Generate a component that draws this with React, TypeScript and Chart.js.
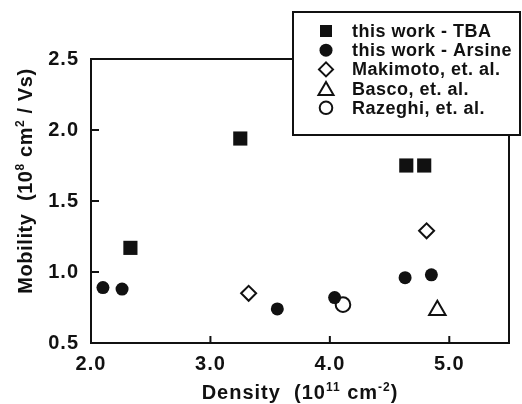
import React, { useEffect, useRef } from 'react';
import { Chart, registerables } from 'chart.js';
import { drawPoint } from 'chart.js/helpers';

Chart.register(...registerables);

// ---- data ----
const seriesLabels = [
  'this work - TBA',
  'this work - Arsine',
  'Makimoto, et. al.',
  'Basco, et. al.',
  'Razeghi, et. al.',
];
const tbaDensity = [2.33, 3.25, 4.64, 4.79];
const tbaMobility = [1.17, 1.94, 1.75, 1.75];
const arsineDensity = [2.1, 2.26, 3.56, 4.04, 4.63, 4.85];
const arsineMobility = [0.89, 0.88, 0.74, 0.82, 0.96, 0.98];
const makimotoDensity = [3.32, 4.81];
const makimotoMobility = [0.85, 1.29];
const bascoDensity = [4.9];
const bascoMobility = [0.73];
const razeghiDensity = [4.11];
const razeghiMobility = [0.77];

const xTickValues = [2.0, 3.0, 4.0, 5.0];
const yTickValues = [0.5, 1.0, 1.5, 2.0, 2.5];

const INK = '#111111';
const FONT = "'Liberation Sans', Arial, Helvetica, sans-serif";

type Part = { t: string; sup?: boolean };

const xTitleParts: Part[] = [
  { t: 'Density  (10' },
  { t: '11', sup: true },
  { t: ' cm' },
  { t: '-2', sup: true },
  { t: ')' },
];
const yTitleParts: Part[] = [
  { t: 'Mobility  (10' },
  { t: '8', sup: true },
  { t: ' cm' },
  { t: '2', sup: true },
  { t: ' / Vs)' },
];

function zip(xs: number[], ys: number[]) {
  return xs.map((x, i) => ({ x, y: ys[i] }));
}

function drawRich(ctx: CanvasRenderingContext2D, parts: Part[], cx: number, cy: number, size: number) {
  const supSize = Math.round(size * 0.62);
  let total = 0;
  const widths = parts.map((p) => {
    ctx.font = `bold ${p.sup ? supSize : size}px ${FONT}`;
    const w = ctx.measureText(p.t).width;
    total += w;
    return w;
  });
  let x = cx - total / 2;
  const base = cy + size * 0.36;
  ctx.textAlign = 'left';
  ctx.textBaseline = 'alphabetic';
  parts.forEach((p, i) => {
    ctx.font = `bold ${p.sup ? supSize : size}px ${FONT}`;
    ctx.fillText(p.t, x, p.sup ? base - size * 0.4 : base);
    x += widths[i];
  });
}

const spacingPlugin = {
  id: 'spacing',
  beforeDraw(chart: any) {
    (chart.ctx as any).letterSpacing = '1px';
  },
};

const framePlugin = {
  id: 'frame',
  afterDatasetsDraw(chart: any) {
    const { ctx, chartArea } = chart;
    const xs = chart.scales.x;
    const ys = chart.scales.y;
    ctx.save();
    ctx.strokeStyle = INK;
    ctx.lineWidth = 2;
    ctx.beginPath();
    ctx.moveTo(chartArea.left - 1, chartArea.top);
    ctx.lineTo(chartArea.right, chartArea.top);
    ctx.lineTo(chartArea.right, chartArea.bottom + 1);
    ctx.stroke();
    // inward ticks
    ctx.beginPath();
    xTickValues.forEach((v) => {
      const px = xs.getPixelForValue(v);
      ctx.moveTo(px, chartArea.bottom);
      ctx.lineTo(px, chartArea.bottom - 7);
    });
    yTickValues.forEach((v) => {
      const py = ys.getPixelForValue(v);
      ctx.moveTo(chartArea.left, py);
      ctx.lineTo(chartArea.left + 8, py);
    });
    ctx.stroke();
    ctx.restore();
  },
  afterDraw(chart: any) {
    const { ctx, chartArea } = chart;
    ctx.save();
    ctx.fillStyle = INK;
    // axis titles
    (ctx as any).letterSpacing = '1px';
    drawRich(ctx, xTitleParts, (chartArea.left + chartArea.right) / 2, 392, 20);
    (ctx as any).letterSpacing = '0.6px';
    ctx.translate(25, 181);
    ctx.rotate(-Math.PI / 2);
    drawRich(ctx, yTitleParts, 0, 0, 20);
    ctx.restore();

    // legend box
    ctx.save();
    const bx = 293, by = 12, bw = 227, bh = 123;
    ctx.fillStyle = '#ffffff';
    ctx.fillRect(bx, by, bw, bh);
    ctx.strokeStyle = INK;
    ctx.lineWidth = 2;
    ctx.strokeRect(bx, by, bw, bh);
    const legendRadius = [8.5, 6.5, 7, 8.7, 6.3];
    chart.data.datasets.forEach((ds: any, i: number) => {
      const y = 31 + i * 19.2;
      ctx.fillStyle = ds.pointBackgroundColor;
      ctx.strokeStyle = INK;
      ctx.lineWidth = 2;
      drawPoint(
        ctx,
        { pointStyle: ds.pointStyle, radius: legendRadius[i], borderWidth: ds.pointBorderWidth, rotation: 0 } as any,
        326,
        ds.pointStyle === 'triangle' ? y + 2 : y
      );
      ctx.fillStyle = INK;
      (ctx as any).letterSpacing = '0.5px';
      ctx.font = `bold 18px ${FONT}`;
      ctx.textAlign = 'left';
      ctx.textBaseline = 'middle';
      ctx.fillText(ds.label, 352, y + 1);
    });
    ctx.restore();
  },
};

export default function App() {
  const ref = useRef<HTMLCanvasElement | null>(null);

  useEffect(() => {
    document.body.style.margin = '0';
    if (!ref.current) return;
    const common = { showLine: false, pointBorderColor: INK, pointHoverRadius: 0 };
    const chart = new Chart(ref.current, {
      type: 'scatter',
      data: {
        datasets: [
          { ...common, label: seriesLabels[0], data: zip(tbaDensity, tbaMobility), pointStyle: 'rect', pointRadius: 10, pointBackgroundColor: INK, pointBorderWidth: 0 },
          { ...common, label: seriesLabels[1], data: zip(arsineDensity, arsineMobility), pointStyle: 'circle', pointRadius: 6.5, pointBackgroundColor: INK, pointBorderWidth: 0 },
          { ...common, label: seriesLabels[2], data: zip(makimotoDensity, makimotoMobility), pointStyle: 'rectRot', pointRadius: 7.5, pointBackgroundColor: '#ffffff', pointBorderWidth: 2 },
          { ...common, label: seriesLabels[3], data: zip(bascoDensity, bascoMobility), pointStyle: 'triangle', pointRadius: 9.5, pointBackgroundColor: '#ffffff', pointBorderWidth: 2 },
          { ...common, label: seriesLabels[4], data: zip(razeghiDensity, razeghiMobility), pointStyle: 'circle', pointRadius: 7.3, pointBackgroundColor: '#ffffff', pointBorderWidth: 2 },
        ] as any,
      },
      options: {
        responsive: false,
        animation: false,
        events: [],
        layout: { padding: { top: 59, right: 13, left: 0, bottom: 0 } },
        plugins: { legend: { display: false }, tooltip: { enabled: false }, title: { display: false } },
        scales: {
          x: {
            type: 'linear',
            min: 2.0,
            max: 5.5,
            grid: { display: false },
            border: { display: true, color: INK, width: 2 },
            afterBuildTicks: (s: any) => { s.ticks = xTickValues.map((v) => ({ value: v })); },
            afterFit: (s: any) => { s.height = 61; },
            ticks: { color: INK, padding: 1, font: { family: FONT, size: 20, weight: 'bold' }, callback: (v: any) => Number(v).toFixed(1), maxRotation: 0, autoSkip: false },
          },
          y: {
            type: 'linear',
            min: 0.5,
            max: 2.5,
            grid: { display: false },
            border: { display: true, color: INK, width: 2 },
            afterBuildTicks: (s: any) => { s.ticks = yTickValues.map((v) => ({ value: v })); },
            afterFit: (s: any) => { s.width = 91; },
            ticks: { color: INK, padding: 4, font: { family: FONT, size: 20, weight: 'bold' }, callback: (v: any) => Number(v).toFixed(1), autoSkip: false },
          },
        },
      } as any,
      plugins: [spacingPlugin, framePlugin],
    });
    return () => chart.destroy();
  }, []);

  return (
    <div style={{ width: 522, height: 404 }}>
      <canvas ref={ref} width={522} height={404} style={{ display: 'block' }} />
    </div>
  );
}
